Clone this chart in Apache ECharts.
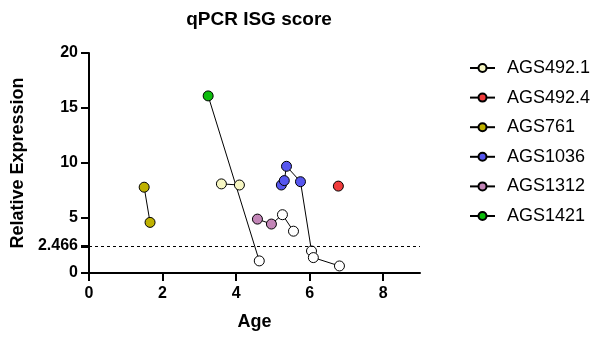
<!DOCTYPE html>
<html>
<head>
<meta charset="utf-8">
<script src="https://cdn.jsdelivr.net/npm/echarts@6/dist/echarts.min.js"></script>
<style>
  html, body { margin: 0; padding: 0; background: #fff; }
  #chart { width: 600px; height: 338px; }
</style>
</head>
<body>
<div id="chart"></div>
<script>
// donors in legend order
const donors = ['AGS492.1', 'AGS492.4', 'AGS761', 'AGS1036', 'AGS1312', 'AGS1421'];
const donorColors = ['#f6f6c2', '#f03c3c', '#bfb100', '#5656ee', '#c386b8', '#0cbc0c'];

// age (x) and ISG score (y) per donor, in age order
const age492_1 = [3.6, 4.09];
const isg492_1 = [8.1, 8.0];
const age492_4 = [6.78];
const isg492_4 = [7.9];
const age761 = [1.5, 1.66];
const isg761 = [7.8, 4.6];
const age1036 = [5.23, 5.31, 5.37, 5.75, 6.05, 6.1, 6.81];
const isg1036 = [8.0, 8.4, 9.7, 8.3, 2.0, 1.4, 0.64];
const age1312 = [4.58, 4.96, 5.26, 5.56];
const isg1312 = [4.9, 4.45, 5.3, 3.8];
const age1421 = [3.24, 4.63];
const isg1421 = [16.1, 1.1];

// number of filled points before the open (white) ones start
const filledCount = [2, 1, 2, 4, 2, 1];

const cutoff = 2.466;
const yTicks = [0, 5, 10, 15, 20];
const xTicks = [0, 2, 4, 6, 8];

const ageLists = [age492_1, age492_4, age761, age1036, age1312, age1421];
const isgLists = [isg492_1, isg492_4, isg761, isg1036, isg1312, isg1421];

const font = '"Liberation Sans", Arial, sans-serif';
const tickFont = { fontFamily: font, fontSize: 16, fontWeight: 'bold', color: '#000' };
const nameFont = { fontFamily: font, fontSize: 18, fontWeight: 'bold', color: '#000' };

const chart = echarts.init(document.getElementById('chart'));

const series = donors.map((name, i) => {
  const s = {
    name: name,
    type: 'line',
    symbol: 'circle',
    symbolSize: 10,
    z: 3,
    lineStyle: { color: '#000', width: 1 },
    itemStyle: { color: donorColors[i], borderColor: '#000', borderWidth: 1 },
    data: ageLists[i].map((a, j) => {
      const pt = { value: [a, isgLists[i][j]] };
      if (j >= filledCount[i]) {
        pt.itemStyle = { color: '#fff', borderColor: '#000', borderWidth: 1 };
      }
      return pt;
    }),
  };
  if (i === 0) {
    s.markLine = {
      silent: true,
      symbol: 'none',
      label: { show: false },
      lineStyle: { color: '#000', width: 1, type: [3, 3] },
      data: [{ yAxis: cutoff }],
    };
  }
  return s;
});

const option = {
  animation: false,
  textStyle: { fontFamily: font },
  title: {
    text: 'qPCR ISG score',
    left: 254,
    top: 5,
    textAlign: 'center',
    textStyle: { fontFamily: font, fontSize: 19, fontWeight: 'bold', color: '#000' },
  },
  legend: {
    orient: 'vertical',
    left: 464,
    top: 54,
    itemWidth: 25,
    itemHeight: 10,
    itemGap: 11.6,
    data: donors,
    textStyle: { fontFamily: font, fontSize: 18, color: '#000', padding: [0, 0, 0, 7] },
  },
  grid: { left: 89, right: 180, top: 53, bottom: 65 },
  xAxis: {
    type: 'value',
    min: 0,
    max: 9,
    interval: 2,
    name: 'Age',
    nameLocation: 'middle',
    nameGap: 40,
    nameTextStyle: nameFont,
    splitLine: { show: false },
    axisLine: { show: true, onZero: false, lineStyle: { color: '#000', width: 2 } },
    axisTick: { show: true, length: 8, customValues: xTicks, lineStyle: { color: '#000', width: 2 } },
    axisLabel: Object.assign({ customValues: xTicks, margin: 13 }, tickFont),
  },
  yAxis: [
    {
      type: 'value',
      min: 0,
      max: 20,
      interval: 5,
      name: 'Relative Expression',
      nameLocation: 'middle',
      nameGap: 62,
      nameTextStyle: nameFont,
      splitLine: { show: false },
      axisLine: { show: true, lineStyle: { color: '#000', width: 2 } },
      axisTick: { show: true, length: 8, customValues: yTicks, lineStyle: { color: '#000', width: 2 } },
      axisLabel: Object.assign({ customValues: yTicks, margin: 11 }, tickFont),
    },
    {
      // extra tick and label for the cutoff value
      type: 'value',
      min: 0,
      max: 20,
      position: 'left',
      splitLine: { show: false },
      axisLine: { show: false },
      axisTick: { show: true, length: 8, customValues: [cutoff], lineStyle: { color: '#000', width: 3 } },
      axisLabel: Object.assign({ customValues: [cutoff], formatter: v => String(v), margin: 11 }, tickFont),
    },
  ],
  series: series,
};

chart.setOption(option);
</script>
</body>
</html>
